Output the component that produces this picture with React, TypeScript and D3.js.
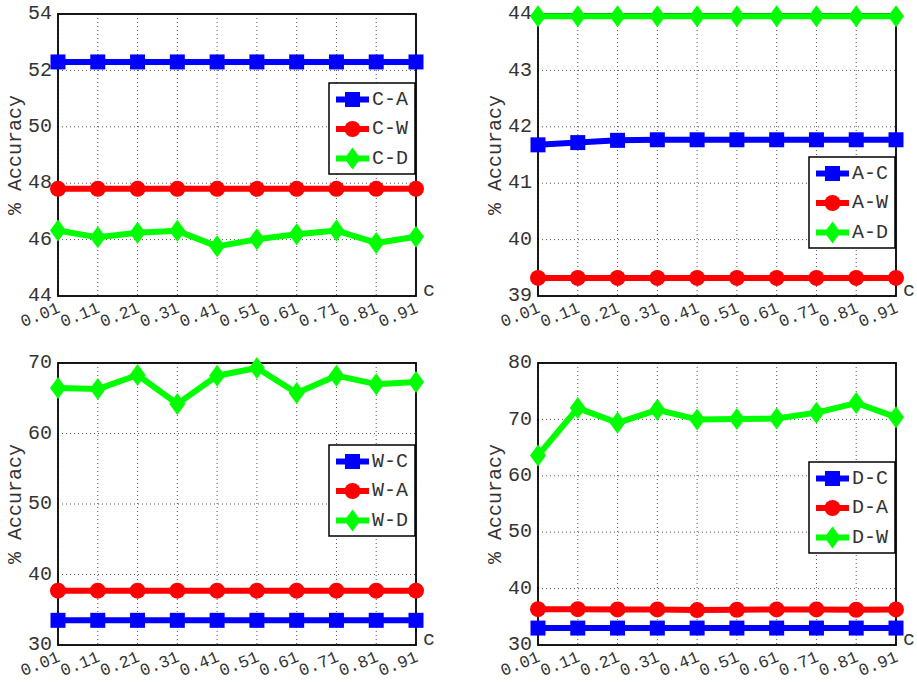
import React, { useRef, useEffect } from 'react';
import * as d3 from 'd3';

// parameter c on the x axis
const cValues = [0.01, 0.11, 0.21, 0.31, 0.41, 0.51, 0.61, 0.71, 0.81, 0.91];
const cLabels = ['0.01', '0.11', '0.21', '0.31', '0.41', '0.51', '0.61', '0.71', '0.81', '0.91'];

// top left: source C
const caValues = [52.3, 52.3, 52.3, 52.3, 52.3, 52.3, 52.3, 52.3, 52.3, 52.3];
const cwValues = [47.8, 47.8, 47.8, 47.8, 47.8, 47.8, 47.8, 47.8, 47.8, 47.8];
const cdValues = [46.32, 46.08, 46.24, 46.31, 45.76, 46.01, 46.19, 46.32, 45.88, 46.1];

// top right: source A
const acValues = [41.68, 41.72, 41.76, 41.77, 41.77, 41.77, 41.77, 41.77, 41.77, 41.77];
const awValues = [39.32, 39.32, 39.32, 39.32, 39.32, 39.32, 39.32, 39.32, 39.32, 39.32];
const adValues = [43.96, 43.96, 43.96, 43.96, 43.96, 43.96, 43.96, 43.96, 43.96, 43.96];

// bottom left: source W
const wcValues = [33.5, 33.5, 33.5, 33.5, 33.5, 33.5, 33.5, 33.5, 33.5, 33.5];
const waValues = [37.7, 37.7, 37.7, 37.7, 37.7, 37.7, 37.7, 37.7, 37.7, 37.7];
const wdValues = [66.45, 66.3, 68.3, 64.2, 68.2, 69.3, 65.75, 68.2, 67.0, 67.3];

// bottom right: source D
const dcValues = [33.0, 33.0, 33.0, 33.0, 33.0, 33.0, 33.0, 33.0, 33.0, 33.0];
const daValues = [36.35, 36.35, 36.3, 36.3, 36.2, 36.25, 36.3, 36.3, 36.25, 36.3];
const dwValues = [63.6, 72.0, 69.4, 71.7, 70.0, 70.05, 70.15, 71.2, 72.9, 70.4];

const seriesColors = ['#0000ff', '#ff0000', '#00ff00'];
const seriesShapes = ['square', 'circle', 'diamond'];

const panels = [
  { left: 58, top: 14, yDomain: [44, 54], yTicks: [44, 46, 48, 50, 52, 54], legendTop: 69,
    names: ['C-A', 'C-W', 'C-D'], series: [caValues, cwValues, cdValues] },
  { left: 538, top: 14, yDomain: [39, 44], yTicks: [39, 40, 41, 42, 43, 44], legendTop: 143,
    names: ['A-C', 'A-W', 'A-D'], series: [acValues, awValues, adValues] },
  { left: 58, top: 363, yDomain: [30, 70], yTicks: [30, 40, 50, 60, 70], legendTop: 82,
    names: ['W-C', 'W-A', 'W-D'], series: [wcValues, waValues, wdValues] },
  { left: 538, top: 363, yDomain: [30, 80], yTicks: [30, 40, 50, 60, 70, 80], legendTop: 99,
    names: ['D-C', 'D-A', 'D-W'], series: [dcValues, daValues, dwValues] },
];

const plotW = 358;
const plotH = 282;
const font = '"Liberation Mono", "DejaVu Sans Mono", monospace';
const textColor = '#333';

const markerPath = (shape: string) => {
  if (shape === 'square') return 'M-7.5,-7.5H7.5V7.5H-7.5Z';
  if (shape === 'circle') return d3.symbol(d3.symbolCircle, Math.PI * 64)() as string;
  return 'M0,-11L8,0L0,11L-8,0Z';
};

const App = () => {
  const svgRef = useRef<SVGSVGElement>(null);

  useEffect(() => {
    const svg = d3.select(svgRef.current);
    svg.selectAll('*').remove();

    panels.forEach(p => {
      const g = svg.append('g').attr('transform', `translate(${p.left},${p.top})`);

      const x = d3.scaleLinear().domain([cValues[0], cValues[cValues.length - 1]]).range([0, plotW]);
      const y = d3.scaleLinear().domain(p.yDomain).range([plotH, 0]);

      // grid
      g.selectAll('.gx')
        .data(cValues)
        .join('line')
        .attr('x1', d => x(d)).attr('x2', d => x(d))
        .attr('y1', 0).attr('y2', plotH)
        .attr('stroke', '#555').attr('stroke-width', 1)
        .attr('stroke-dasharray', '1,3');
      g.selectAll('.gy')
        .data(p.yTicks)
        .join('line')
        .attr('x1', 0).attr('x2', plotW)
        .attr('y1', d => y(d)).attr('y2', d => y(d))
        .attr('stroke', '#555').attr('stroke-width', 1)
        .attr('stroke-dasharray', '1,3');

      // frame
      g.append('rect')
        .attr('width', plotW).attr('height', plotH)
        .attr('fill', 'none').attr('stroke', '#000').attr('stroke-width', 1.8);

      // y tick labels
      g.selectAll('.yl')
        .data(p.yTicks)
        .join('text')
        .attr('x', -6).attr('y', d => y(d))
        .attr('text-anchor', 'end').attr('dominant-baseline', 'middle')
        .attr('font-family', font).attr('font-size', 20).attr('fill', textColor)
        .text(d => d);

      // x tick labels, rotated
      g.selectAll('.xl')
        .data(cValues)
        .join('text')
        .attr('transform', d => `translate(${x(d) + 3},${plotH + 16}) rotate(-22)`)
        .attr('text-anchor', 'end')
        .attr('font-family', font).attr('font-size', 17).attr('fill', textColor)
        .text((d, i) => cLabels[i]);

      g.append('text')
        .attr('x', plotW + 7).attr('y', plotH)
        .attr('font-family', font).attr('font-size', 20).attr('fill', textColor)
        .text('c');

      g.append('text')
        .attr('transform', `translate(-37,${plotH / 2}) rotate(-90)`)
        .attr('text-anchor', 'middle')
        .attr('font-family', font).attr('font-size', 20).attr('fill', textColor)
        .text('% Accuracy');

      // series
      const line = d3.line<number>().x((d, i) => x(cValues[i])).y(d => y(d));
      p.series.forEach((vals, si) => {
        g.append('path')
          .datum(vals)
          .attr('d', line)
          .attr('fill', 'none')
          .attr('stroke', seriesColors[si])
          .attr('stroke-width', 6)
          .attr('stroke-linejoin', 'round');
        g.selectAll(`.m${si}`)
          .data(vals)
          .join('path')
          .attr('transform', (d, i) => `translate(${x(cValues[i])},${y(d)})`)
          .attr('d', markerPath(seriesShapes[si]))
          .attr('fill', seriesColors[si]);
      });

      // legend
      const lg = g.append('g').attr('transform', `translate(${plotW - 87},${p.legendTop})`);
      lg.append('rect')
        .attr('width', 86).attr('height', 91)
        .attr('fill', '#fff').attr('stroke', '#000').attr('stroke-width', 1.5);
      p.names.forEach((name, si) => {
        const ry = 16.5 + si * 29.5;
        lg.append('line')
          .attr('x1', 7).attr('x2', 40).attr('y1', ry).attr('y2', ry)
          .attr('stroke', seriesColors[si]).attr('stroke-width', 6);
        lg.append('path')
          .attr('transform', `translate(23.5,${ry})`)
          .attr('d', markerPath(seriesShapes[si]))
          .attr('fill', seriesColors[si]);
        lg.append('text')
          .attr('x', 43).attr('y', ry)
          .attr('dominant-baseline', 'middle')
          .attr('font-family', font).attr('font-size', 20).attr('fill', textColor)
          .text(name);
      });
    });
  }, []);

  return (
    <svg
      ref={svgRef}
      width={917}
      height={682}
      style={{ position: 'absolute', left: 0, top: 0, background: '#fff' }}
    />
  );
};

export default App;
